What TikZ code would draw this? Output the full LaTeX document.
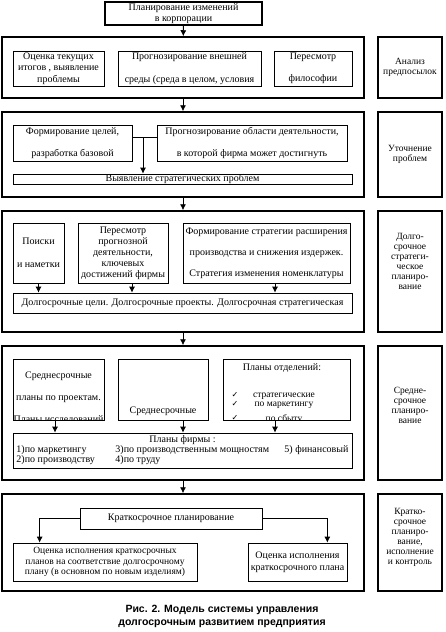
\documentclass[tikz,border=0pt]{standalone}
\usepackage{fontspec}
\setmainfont{Liberation Serif}
\setsansfont{Liberation Sans}
\newfontfamily\checkfont{DejaVu Sans}
\usetikzlibrary{arrows.meta}
\tikzstyle{sect}=[rectangle,draw,line width=1.5pt,minimum width=362pt]
\tikzstyle{side}=[rectangle,draw,line width=1.5pt,minimum width=64pt,align=center,
font=\fontsize{9.5}{10}\selectfont]
\tikzstyle{inbox}=[rectangle,draw,line width=0.7pt,inner sep=0pt,align=center]
\tikzstyle{txt}=[inner sep=0pt,align=center]
\tikzstyle{sidetxt}=[inner sep=0pt,align=center,font=\fontsize{9.5}{10}\selectfont]
\tikzstyle{arr}=[-{Latex[length=6pt,width=6pt]},line width=0.8pt]

\begin{document}
\begin{tikzpicture}[x=1pt,y=-1pt,font=\fontsize{10}{11.5}\selectfont]
            \useasboundingbox (0,0) rectangle (445,632);

            % TOP PART

            \node[inbox,line width=1.5pt,minimum width=157pt,minimum height=23pt] (top) at (183.5,13.5) {Планирование изменений\\в корпорации};

            % ANALYSIS PART

            \node[sect,minimum height=61pt] (s1) at (183,67.5) {};
            \node[side,minimum height=61pt] (r1) at (410,67.5) {Анализ\\предпосылок};
            \node[inbox,minimum width=91pt,minimum height=35pt] (b11) at (58.5,68.5) {Оценка текущих\\итогов , выявление\\проблемы};
            \node[inbox,minimum width=143pt,minimum height=35pt] (b12) at (189.5,68.5) {Прогнозирование внешней\\[11pt]среды (среда в целом, условия};
            \node[inbox,minimum width=78pt,minimum height=35pt] (b13) at (313,68.5) {Пересмотр\\[11pt]философии};

            \path[arr] (top) edge (s1);

            % PROBLEMS PART

            \node[sect,minimum height=85pt] (s2) at (183,154.5) {};
            \node[side,minimum height=85pt] (r2) at (410,154.5) {Уточнение\\проблем};
            \node[inbox,minimum width=119pt,minimum height=36pt] (b21) at (72.5,143) {Формирование целей,\\[11pt]разработка базовой};
            \node[inbox,minimum width=190pt,minimum height=36pt] (b22) at (252,143) {Прогнозирование области деятельности,\\[11pt]в которой фирма может достигнуть};
            \node[inbox,minimum width=339pt,minimum height=10pt] (b23) at (182.5,179) {Выявление стратегических проблем};

            \draw[line width=0.7pt] ([yshift=6pt]b21.east) -- ([yshift=6pt]b22.west);
            \coordinate (j2) at (143,137);
            \path[arr] (j2) edge (j2 |- b23.north);
            \path[arr] (s1) edge (s2);

            % LONG-TERM PART

            \node[sect,minimum height=121pt] (s3) at (183,271.5) {};
            \node[side,minimum height=121pt] (r3) at (410,271.5) {};
            \node[sidetxt] (t3) at (410,261) {Долго-\\срочное\\стратеги-\\ческое\\планиро-\\вание};
            \node[inbox,minimum width=51pt,minimum height=60pt] (b31) at (38.5,253) {Поиски\\[12pt]и наметки};
            \node[inbox,minimum width=90pt,minimum height=60pt,font=\fontsize{10}{11}\selectfont] (b32) at (123,253) {Пересмотр\\прогнозной\\деятельности,\\ключевых\\достижений фирмы};
            \node[inbox,minimum width=167pt,minimum height=60pt] (b33) at (266.5,253) {Формирование стратегии расширения\\[9.5pt]производства и снижения издержек.\\[9.5pt]Стратегия изменения номенклатуры};
            \node[inbox,minimum width=339pt,minimum height=20pt] (b34) at (182.5,303) {Долгосрочные цели. Долгосрочные проекты. Долгосрочная стратегическая};

            \path[arr] (b31.south) edge (b31.south |- b34.north);
            \path[arr] ([xshift=9pt]b32.south) edge ([xshift=9pt]b32.south |- b34.north);
            \path[arr] ([xshift=8.5pt]b33.south) edge ([xshift=8.5pt]b33.south |- b34.north);
            \path[arr] (s2) edge (s3);

            % MID-TERM PART

            \node[sect,minimum height=134pt] (s4) at (183,413) {};
            \node[side,minimum height=134pt] (r4) at (410,413) {};
            \node[sidetxt] (t4) at (410,405) {Средне-\\срочное\\планиро-\\вание};
            \node[inbox,minimum width=91pt,minimum height=61pt] (b41) at (58.5,389.5) {};
            \node[inbox,minimum width=90pt,minimum height=61pt] (b42) at (163,389.5) {};
            \node[inbox,minimum width=127pt,minimum height=61pt] (b43) at (286.5,389.5) {};
            \begin{scope}
              \clip (b41.north west) rectangle (b41.south east);
              \node[txt] (t41) at (58.5,398) {Среднесрочные\\[10.5pt]планы по проектам.\\[10.5pt]Планы исследований};
            \end{scope}
            \node[txt] (t42) at (163,411) {Среднесрочные};
            \node[txt] (t43) at (282,368) {Планы отделений:};
            \begin{scope}
              \clip (b43.north west) rectangle (b43.south east);
              \foreach \s/\y [count=\i] in {стратегические/396,по маркетингу/405,по сбыту/419}{
                \node[txt,font=\checkfont\fontsize{8}{8}\selectfont] (c\i) at (235,\y-1) {✓};
                \node[txt,font=\fontsize{9.5}{10}\selectfont] (l\i) at (284,\y) {\s};
              }
            \end{scope}
            \node[inbox,minimum width=339pt,minimum height=35pt,font=\fontsize{10}{9.5}\selectfont] (b44) at (182.5,450.5) {%
              \begin{tabular}{@{}p{99pt}@{}p{169pt}@{}l@{}}
              \multicolumn{3}{@{}c@{}}{Планы фирмы :}\\
              1)по маркетингу & 3)по производственным мощностям & 5) финансовый\\
              2)по производству & 4)по труду &
              \end{tabular}};

            \path[arr] ([xshift=-3.5pt]b41.south) edge ([xshift=-3.5pt]b41.south |- b44.north);
            \path[arr] ([xshift=20pt]b42.south) edge ([xshift=20pt]b42.south |- b44.north);
            \path[arr] ([xshift=-11.5pt]b43.south) edge ([xshift=-11.5pt]b43.south |- b44.north);
            \path[arr] (s3) edge (s4);

            % SHORT-TERM PART

            \node[sect,minimum height=97pt] (s5) at (183,542.5) {};
            \node[side,minimum height=97pt] (r5) at (410,542.5) {};
            \node[sidetxt] (t5) at (410,537.5) {Кратко-\\срочное\\планиро-\\вание,\\исполнение\\и контроль};
            \node[inbox,minimum width=182pt,minimum height=21pt] (b51) at (171,518.5) {Краткосрочное планирование};
            \node[inbox,minimum width=184pt,minimum height=38pt,font=\fontsize{9.5}{10.5}\selectfont] (b52) at (105,562) {Оценка исполнения краткосрочных\\планов на соответствие долгосрочному\\плану (в основном по новым изделиям)};
            \node[inbox,minimum width=99pt,minimum height=38pt] (b53) at (297.5,562) {Оценка исполнения\\краткосрочного плана};

            \draw[arr] (b51.west) -| ([xshift=27pt]b52.north west);
            \draw[arr] (b51.east) -| ([xshift=-20pt]b53.north east);
            \path[arr] (s4) edge (s5);

            % CAPTION

            \node[align=center,font=\sffamily\bfseries\fontsize{10.5}{13}\selectfont] (cap) at (222,616) {Рис. 2. Модель системы управления\\долгосрочным развитием предприятия};

\end{tikzpicture}
\end{document}
